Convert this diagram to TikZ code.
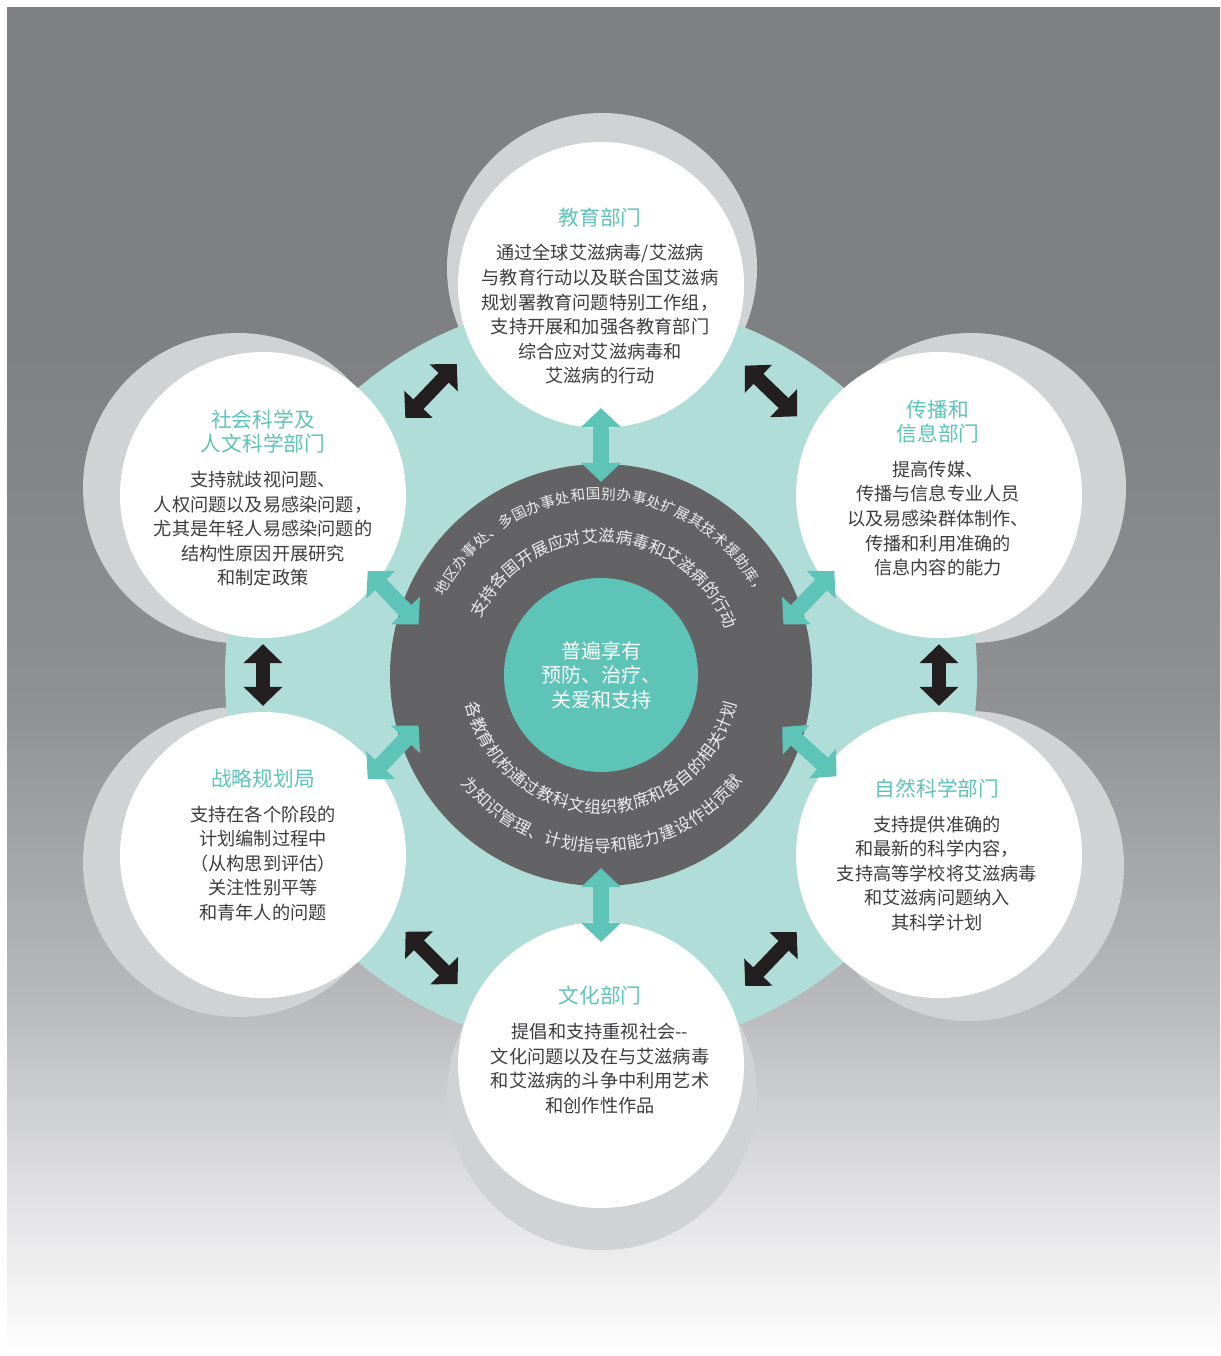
\documentclass[tikz,border=0pt]{standalone}
\usepackage{fontspec}
\setmainfont{Noto Sans CJK SC}
\usetikzlibrary{arrows.meta,decorations.text}
\definecolor{bgA}{HTML}{7F8084}
\definecolor{bgB}{HTML}{8F9094}
\definecolor{bgC}{HTML}{B8B9BC}
\definecolor{bgD}{HTML}{E2E2E4}
\definecolor{bgE}{HTML}{F8F8F8}
\definecolor{ringteal}{HTML}{B0DDD8}
\definecolor{hubteal}{HTML}{5EC4B8}
\definecolor{coregray}{HTML}{636265}
\definecolor{shadegray}{HTML}{D1D2D4}
\definecolor{arrowblack}{HTML}{231F20}
\definecolor{bodygray}{HTML}{3D3D3F}
\definecolor{curvetext}{HTML}{EDEDED}
\pgfdeclareverticalshading{bgshade}{100bp}{color(0bp)=(white); color(25bp)=(white); color(26.3bp)=(bgE); color(30.8bp)=(bgD); color(38.2bp)=(bgC); color(49.3bp)=(bgB); color(62.3bp)=(bgA); color(100bp)=(bgA)}
\newcommand{\unithead}[1]{{\color{hubteal}\fontsize{20.7}{24.6}\selectfont #1}}
\newcommand{\curvesmall}{\color{curvetext}\fontsize{14.5}{14.5}\selectfont}
\newcommand{\curvelarge}{\color{curvetext}\fontsize{16.5}{16.5}\selectfont}

\begin{document}
\begin{tikzpicture}[x=1pt,y=-1pt,
unit/.style={circle,fill=white,minimum size=286pt,inner sep=0pt},
unittext/.style={align=center,text=bodygray,inner sep=0pt,font=\fontsize{18.2}{24.6}\selectfont},
blackarr/.style={draw=arrowblack,line width=14pt,{Triangle[width=38pt,length=19pt]}-{Triangle[width=38pt,length=19pt]}},
tealarr/.style={draw=hubteal,line width=16pt,{Triangle[width=39pt,length=19pt]}-{Triangle[width=39pt,length=19pt]}},
curve/.style={decorate,decoration={text along path,text align=fit to path,text={#1}}}]
\useasboundingbox (0,0) rectangle (1220,1356);
\shade[shading=bgshade] (7,8) rectangle (1220,1356);

% shadows of the six units
\fill[shadegray] (602,268) circle[radius=155];
\fill[shadegray] (238,488) circle[radius=155];
\fill[shadegray] (971,488) circle[radius=155];
\fill[shadegray] (238,862) circle[radius=155];
\fill[shadegray] (969,866) circle[radius=155];
\fill[shadegray] (602,1095) circle[radius=155];

\node[circle,fill=ringteal,minimum size=752pt,inner sep=0pt] (ring) at (601,675) {};
\node[circle,fill=coregray,minimum size=422pt,inner sep=0pt] (core) at (601,675) {};
\node[circle,fill=hubteal,minimum size=194pt,inner sep=0pt,align=center,text=white,
  font=\fontsize{20}{24.5}\selectfont] (hub) at (601,675) {普遍享有\\预防、治疗、\\关爱和支持};

% units
\node[unit] (top) at (601,285) {};
\node[unit] (tl) at (263,495) {};
\node[unit] (tr) at (939,495) {};
\node[unit] (bl) at (263,855) {};
\node[unit] (br) at (939,855) {};
\node[unit] (bot) at (601,1065) {};

\node[unittext] (toptext) at (600,296) {\unithead{教育部门}\\[10pt]
  通过全球艾滋病毒/艾滋病\\与教育行动以及联合国艾滋病\\规划署教育问题特别工作组，\\
  支持开展和加强各教育部门\\综合应对艾滋病毒和\\艾滋病的行动};
\node[unittext] (tltext) at (263,498) {\unithead{社会科学及}\\\unithead{人文科学部门}\\[10pt]
  支持就歧视问题、\\人权问题以及易感染问题，\\尤其是年轻人易感染问题的\\
  结构性原因开展研究\\和制定政策};
\node[unittext] (trtext) at (938,488) {\unithead{传播和}\\\unithead{信息部门}\\[10pt]
  提高传媒、\\传播与信息专业人员\\以及易感染群体制作、\\传播和利用准确的\\信息内容的能力};
\node[unittext] (bltext) at (263,845) {\unithead{战略规划局}\\[10pt]
  支持在各个阶段的\\计划编制过程中\\（从构思到评估）\\关注性别平等\\和青年人的问题};
\node[unittext] (brtext) at (937,855) {\unithead{自然科学部门}\\[10pt]
  支持提供准确的\\和最新的科学内容，\\支持高等学校将艾滋病毒\\和艾滋病问题纳入\\其科学计划};
\node[unittext] (bottext) at (600,1050) {\unithead{文化部门}\\[10pt]
  提倡和支持重视社会-{}-\\文化问题以及在与艾滋病毒\\和艾滋病的斗争中利用艺术\\和创作性作品};

% text round the core
\path[curve={|\curvesmall|地区办事处、多国办事处和国别办事处扩展其技术援助库，}]
  (core) ++(-153.5:175.5) arc[start angle=-153.5,end angle=-26.6,radius=175.5];
\path[curve={|\curvelarge|支持各国开展应对艾滋病毒和艾滋病的行动}]
  (core) ++(-155:133) arc[start angle=-155,end angle=-20.3,radius=133];
\path[curve={|\curvelarge|各教育机构通过教科文组织教席和各自的相关计划}]
  (core) ++(-191.9:138) arc[start angle=-191.9,end angle=-348.2,radius=138];
\path[curve={|\curvelarge|为知识管理、计划指导和能力建设作出贡献}]
  (core) ++(-217.7:177) arc[start angle=-217.7,end angle=-323.4,radius=177];

% links between units
\draw[blackarr,shorten <=19.7pt,shorten >=22.5pt] (tl.26.55) -- (top.206.55);
\draw[blackarr,shorten <=22.5pt,shorten >=19.7pt] (top.333.45) -- (tr.153.45);
\draw[blackarr,shorten <=6pt,shorten >=6pt] (tl.south) -- (bl.north);
\draw[blackarr,shorten <=6pt,shorten >=6pt] (tr.south) -- (br.north);
\draw[blackarr,shorten <=19.7pt,shorten >=22.5pt] (bl.-26.55) -- (bot.153.45);
\draw[blackarr,shorten <=22.5pt,shorten >=19.7pt] (bot.26.55) -- (br.206.55);

% links to the core
\draw[tealarr,shorten <=-20pt,shorten >=-18pt] (top.south) -- (core.north);
\draw[tealarr,shorten <=-20pt,shorten >=-18pt] (bot.north) -- (core.south);
\draw[tealarr,shorten <=-14pt,shorten >=-25pt] (tl.-37.3) -- (core.161);
\draw[tealarr,shorten <=-14pt,shorten >=-25pt] (tr.217.3) -- (core.19);
\draw[tealarr,shorten <=-14pt,shorten >=-25pt] (bl.37.3) -- (core.199);
\draw[tealarr,shorten <=-14pt,shorten >=-25pt] (br.142.7) -- (core.341);
\end{tikzpicture}
\end{document}
